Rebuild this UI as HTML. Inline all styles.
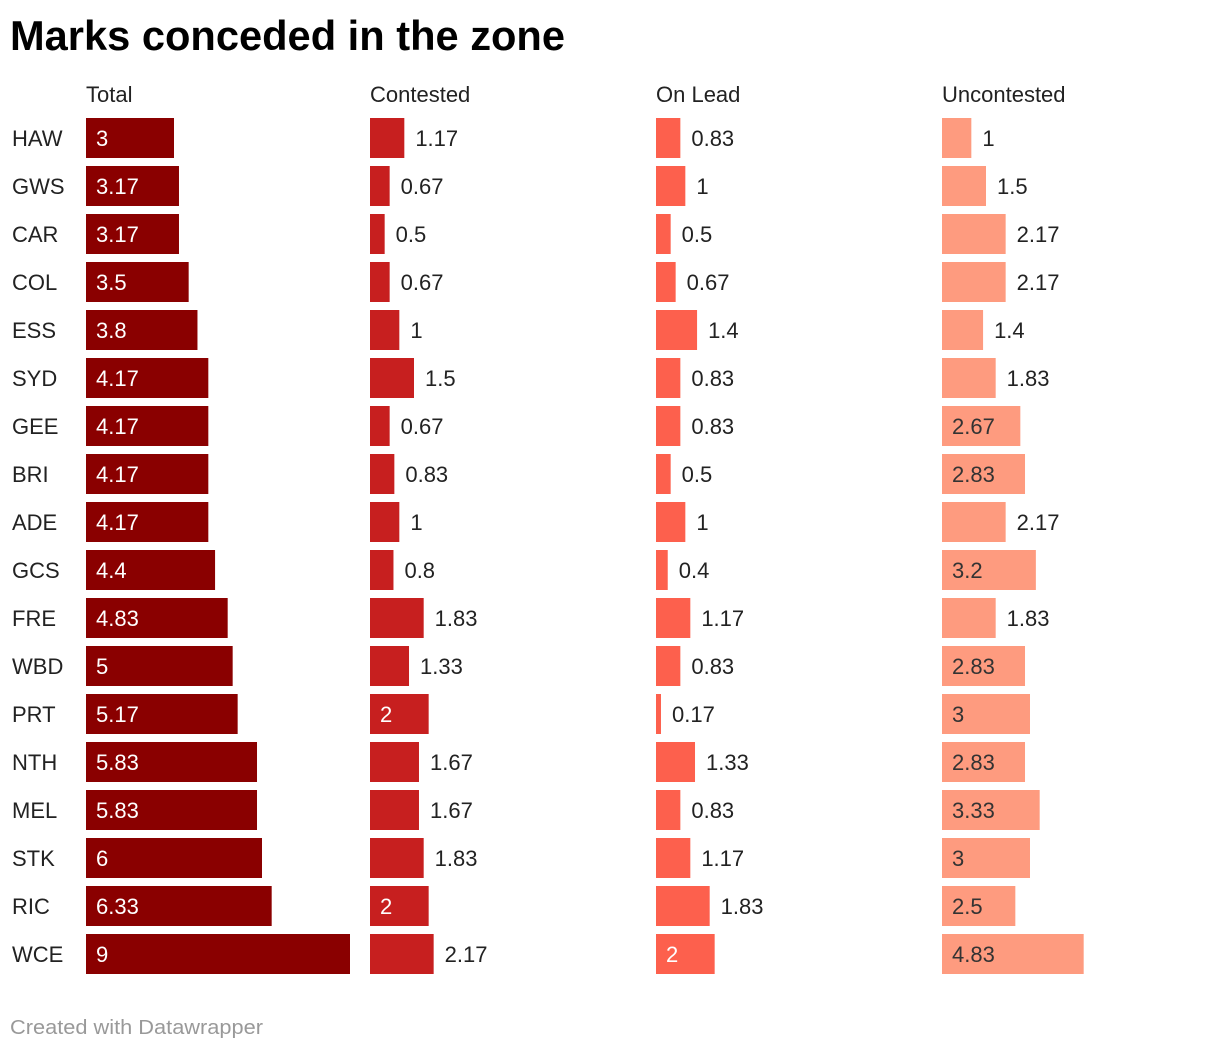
<!DOCTYPE html>
<html><head><meta charset="utf-8">
<style>
body{margin:0;background:#fff;width:1220px;height:1050px;overflow:hidden;font-family:"Liberation Sans",Arial,sans-serif}
</style></head>
<body>
<svg id="chart" width="1220" height="1050" xmlns="http://www.w3.org/2000/svg" font-family="Liberation Sans, Arial, sans-serif">
<text x="10" y="50" font-size="42" font-weight="bold" fill="#000" textLength="555" lengthAdjust="spacingAndGlyphs">Marks conceded in the zone</text>
<text x="10" y="1034" font-size="20" fill="#999" textLength="253" lengthAdjust="spacingAndGlyphs">Created with Datawrapper</text>
</svg>
<script>
const teams=["HAW","GWS","CAR","COL","ESS","SYD","GEE","BRI","ADE","GCS","FRE","WBD","PRT","NTH","MEL","STK","RIC","WCE"];
const seriesNames=["Total","Contested","On Lead","Uncontested"];
const total=[3,3.17,3.17,3.5,3.8,4.17,4.17,4.17,4.17,4.4,4.83,5,5.17,5.83,5.83,6,6.33,9];
const contested=[1.17,0.67,0.5,0.67,1,1.5,0.67,0.83,1,0.8,1.83,1.33,2,1.67,1.67,1.83,2,2.17];
const onLead=[0.83,1,0.5,0.67,1.4,0.83,0.83,0.5,1,0.4,1.17,0.83,0.17,1.33,0.83,1.17,1.83,2];
const uncontested=[1,1.5,2.17,2.17,1.4,1.83,2.67,2.83,2.17,3.2,1.83,2.83,3,2.83,3.33,3,2.5,4.83];

const svg=document.getElementById('chart');
const NS="http://www.w3.org/2000/svg";
const series=[total,contested,onLead,uncontested];
const colors=["#8a0000","#c71f1f","#fd604d","#fe9b7f"];
const insideText=["#fff","#fff","#fff","#333"];
const colX=[86,370,656,942];
const unit=264/9;
function xScale(v){return v*unit;}
function yRow(i){return 118+i*48;}
const ctx=document.createElement('canvas').getContext('2d');
ctx.font='22px "Liberation Sans", Arial, sans-serif';
function mk(tag,attrs){const e=document.createElementNS(NS,tag);for(const k in attrs)e.setAttribute(k,attrs[k]);svg.appendChild(e);return e;}

seriesNames.forEach((n,c)=>{
  const t=mk('text',{x:colX[c],y:102,'font-size':22,fill:'#222'});
  t.textContent=n;
  
  
});
teams.forEach((tm,i)=>{
  const y=yRow(i);
  const t=mk('text',{x:12,y:y+28,'font-size':22,fill:'#222'});
  t.textContent=tm;
  
  
  series.forEach((arr,c)=>{
    const v=arr[i], w=xScale(v);
    const r=mk('rect',{x:colX[c],y:y,width:w,height:40,fill:colors[c]});
    
    
    const s=String(v);
    const tw=ctx.measureText(s).width;
    const inside=tw+24<=w;
    const l=mk('text',{x:inside?colX[c]+10:colX[c]+w+11,y:y+28,'font-size':22,fill:inside?insideText[c]:'#222'});
    l.textContent=s;
    
    
  });
});
</script>
</body></html>
